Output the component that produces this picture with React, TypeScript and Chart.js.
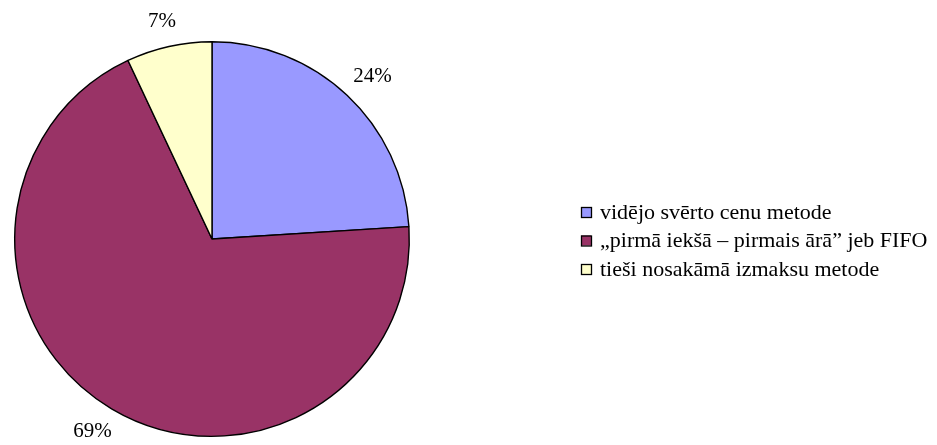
import React, { useEffect, useRef } from "react";
import { Chart, registerables } from "chart.js";

Chart.register(...registerables);

const categories = [
  "vidējo svērto cenu metode",
  "„pirmā iekšā – pirmais ārā” jeb FIFO",
  "tieši nosakāmā izmaksu metode",
];
const values = [24, 69, 7];
const colors = ["#9999FF", "#993366", "#FFFFCC"];

const FONT = '"Liberation Serif", "Times New Roman", serif';

const labelsPlugin = {
  id: "customLabels",
  afterDraw(chart: any) {
    const ctx = chart.ctx;
    const meta = chart.getDatasetMeta(0);
    const data = chart.data.datasets[0].data as number[];
    const total = data.reduce((a: number, b: number) => a + b, 0);
    ctx.save();
    ctx.font = `21px ${FONT}`;
    ctx.fillStyle = "#000";
    ctx.textAlign = "center";
    ctx.textBaseline = "middle";
    meta.data.forEach((arc: any, i: number) => {
      const p = arc.getProps(["x", "y", "startAngle", "endAngle", "outerRadius"], true);
      const mid = (p.startAngle + p.endAngle) / 2;
      const d = p.outerRadius + 18;
      const txt = Math.round((data[i] / total) * 100) + "%";
      const w = ctx.measureText(txt).width;
      const cx = p.x + Math.cos(mid) * d + Math.cos(mid) * (w / 2);
      const cy = p.y + Math.sin(mid) * d + Math.sin(mid) * 8;
      ctx.fillText(txt, cx, cy);
    });
    // legend
    ctx.font = `22px ${FONT}`;
    const lx = 581;
    const ly0 = 212;
    const step = 28.5;
    ctx.textAlign = "left";
    chart.data.labels.forEach((lab: string, i: number) => {
      const y = ly0 + i * step;
      ctx.fillStyle = colors[i];
      ctx.fillRect(lx, y - 5, 10, 10);
      ctx.strokeStyle = "#000";
      ctx.lineWidth = 1.3;
      ctx.strokeRect(lx + 0.5, y - 4.5, 10, 10);
      ctx.fillStyle = "#000";
      ctx.fillText(lab, lx + 19, y + 1);
    });
    ctx.restore();
  },
};

export default function App() {
  const ref = useRef<HTMLCanvasElement>(null);
  useEffect(() => {
    document.body.style.margin = "0";
    const chart = new Chart(ref.current!, {
      type: "pie",
      data: {
        labels: categories,
        datasets: [
          {
            data: values,
            backgroundColor: colors,
            borderColor: "#000",
            borderWidth: 1.4,
          },
        ],
      },
      options: {
        animation: false,
        responsive: false,
        layout: { padding: { left: 14, top: 41, right: 527, bottom: 8 } },
        plugins: { legend: { display: false }, tooltip: { enabled: false } },
      },
      plugins: [labelsPlugin],
    });
    return () => chart.destroy();
  }, []);
  return (
    <div style={{ width: 937, height: 445, background: "#fff" }}>
      <canvas ref={ref} width={937} height={445} style={{ width: 937, height: 445 }} />
    </div>
  );
}
